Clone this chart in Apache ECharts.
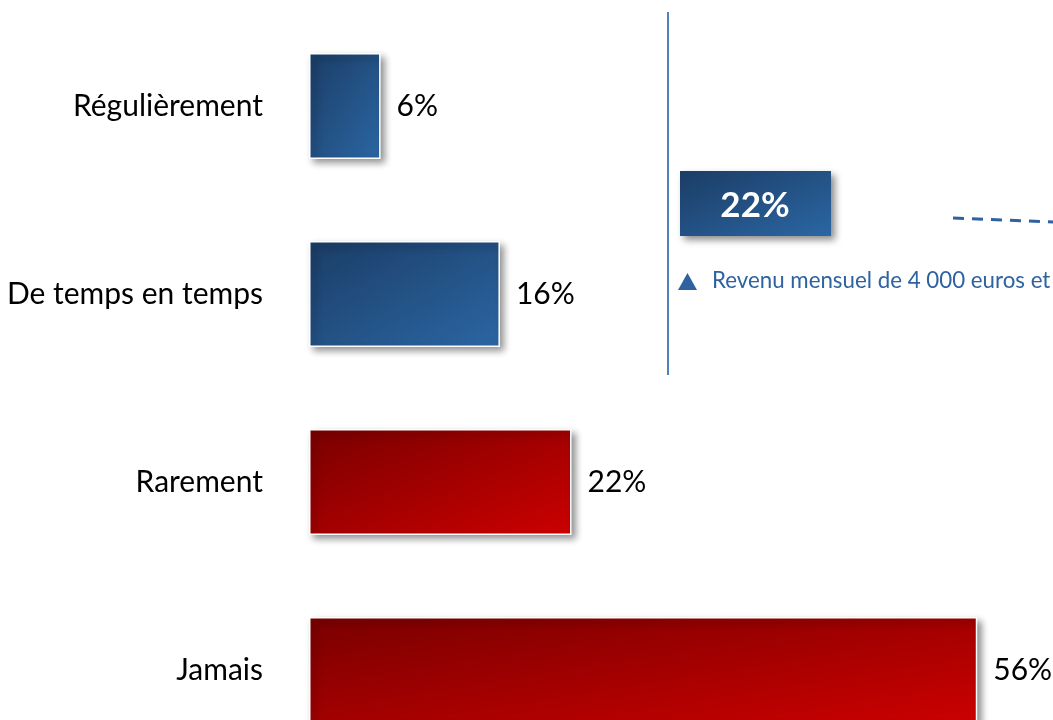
<!DOCTYPE html>
<html>
<head>
<meta charset="utf-8">
<script src="https://cdn.jsdelivr.net/npm/echarts@6/dist/echarts.min.js"></script>
<style>
html,body{margin:0;padding:0;background:#fff;}
#chart{width:1053px;height:720px;}
</style>
</head>
<body>
<div id="chart"></div>
<script>
const categories = ['Régulièrement', 'De temps en temps', 'Rarement', 'Jamais'];
const values = [6, 16, 22, 56];
const groupOf = ['blue', 'blue', 'red', 'red'];
const calloutValue = '22%';
const calloutText = 'Revenu mensuel de 4 000 euros et plus';

const FONT = 'Lato';
const palette = {
  blue: ['#1b3d66', '#2b66a3'],
  red: ['#7a0000', '#cc0000']
};
const GRID = {left: 309, top: 12, width: 716, bottom: -44};
const XMAX = 60;
const BAR_W = 106;

// Office-style diagonal gradient scaled to the shape: colour = f(x/w + y/h)
function shapeGradient(cols, w, h) {
  const d = h * h + w * w;
  return new echarts.graphic.LinearGradient(0, 0, 2 * h * h / d, 2 * w * w / d, [
    {offset: 0, color: cols[0]}, {offset: 1, color: cols[1]}]);
}

const chart = echarts.init(document.getElementById('chart'), null, {renderer: 'canvas'});
const pxPerUnit = GRID.width / XMAX;
chart.setOption({
  animation: false,
  backgroundColor: '#fff',
  grid: Object.assign({containLabel: false, outerBoundsMode: 'none'}, GRID),
  xAxis: {type: 'value', min: 0, max: XMAX, show: false},
  yAxis: {
    type: 'category', inverse: true, data: categories,
    axisLine: {show: false}, axisTick: {show: false}, splitLine: {show: false},
    axisLabel: {fontFamily: FONT, fontSize: 30, color: '#000', margin: 46}
  },
  series: [{
    type: 'bar',
    barWidth: BAR_W,
    data: values.map((v, i) => ({
      value: v,
      itemStyle: {color: shapeGradient(palette[groupOf[i]], v * pxPerUnit, BAR_W)}
    })),
    itemStyle: {
      borderColor: '#fff', borderWidth: 1.5,
      shadowColor: 'rgba(0,0,0,0.45)', shadowBlur: 7, shadowOffsetX: 4, shadowOffsetY: 4
    },
    label: {
      show: true, position: 'right', distance: 16,
      formatter: '{c}%', fontFamily: FONT, fontSize: 30, color: '#000'
    }
  }],
  graphic: [
    {type: 'line', shape: {x1: 668, y1: 12, x2: 668, y2: 375},
     style: {stroke: '#4f81bd', lineWidth: 2}},
    {type: 'rect', shape: {x: 680, y: 171, width: 151, height: 65},
     style: {fill: shapeGradient(palette.blue, 151, 65), shadowColor: 'rgba(0,0,0,0.45)', shadowBlur: 7, shadowOffsetX: 4, shadowOffsetY: 4}},
    {type: 'text', x: 755, y: 206,
     style: {text: calloutValue, fill: '#fff', font: 'bold 35px ' + FONT, textAlign: 'center', textVerticalAlign: 'middle'}},
    {type: 'polygon', shape: {points: [[678, 290], [697, 290], [687.5, 273]]},
     style: {fill: '#2e63a0'}},
    {type: 'text', x: 712, y: 281,
     style: {text: calloutText, fill: '#2e63a0', font: '22.3px ' + FONT, textVerticalAlign: 'middle'}},
    {type: 'line', shape: {x1: 953, y1: 218, x2: 1080, y2: 223},
     style: {stroke: '#2e63a0', lineWidth: 3, lineDash: [11, 8]}}
  ]
});
</script>
</body>
</html>
